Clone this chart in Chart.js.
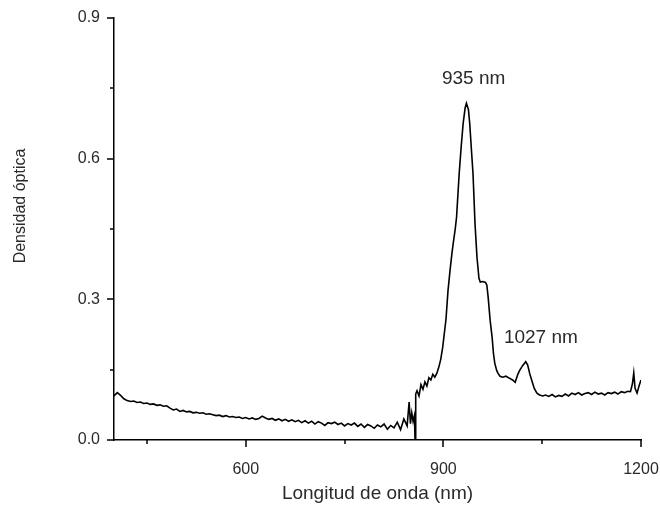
<!DOCTYPE html>
<html>
<head>
<meta charset="utf-8">
<script src="https://cdn.jsdelivr.net/npm/chart.js@4/dist/chart.umd.min.js"></script>
<style>
  html, body { margin: 0; padding: 0; background: #fff; }
  #wrap { width: 660px; height: 508px; }
</style>
</head>
<body>
<div id="wrap"><canvas id="spectrum"></canvas></div>
<script>
// wavelength (nm) and optical density
const wavelengths = [
  400, 405, 410, 415, 420, 425, 430, 435, 440, 445, 450, 455, 460, 465, 470, 475, 480, 485, 490, 495,
  500, 505, 510, 515, 520, 525, 530, 535, 540, 545, 550, 555, 560, 565, 570, 575, 580, 585, 590, 595,
  600, 605, 610, 615, 620, 625, 630, 635, 640, 645, 650, 655, 660, 665, 670, 675, 680, 685, 690, 695,
  700, 705, 710, 715, 720, 725, 730, 735, 740, 745, 750, 755, 760, 765, 770, 775, 780, 785, 790, 795,
  800, 805, 810, 815, 820, 825, 830, 835, 840, 845, 848, 850, 852, 854, 856, 857, 858,
  860, 863, 866, 869, 872, 875, 878, 881, 884, 887, 890, 893, 896, 899, 902, 904, 907, 910, 913, 915,
  918, 920, 924, 927, 930, 933, 935, 938, 940, 943, 945, 948, 951, 954, 956, 960, 964, 966, 968, 971,
  974, 976, 978, 981, 983, 986, 990, 995, 1000, 1005, 1009, 1013, 1016, 1020, 1025, 1028, 1031, 1034, 1038, 1042,
  1046, 1051, 1055, 1060, 1065, 1070, 1075, 1080, 1085, 1090, 1095, 1100, 1105, 1110, 1115, 1120, 1125, 1130, 1135, 1140,
  1145, 1150, 1155, 1160, 1165, 1170, 1175, 1180, 1184, 1187, 1189, 1191, 1194, 1197, 1200
];
const density = [
  0.094, 0.101, 0.095, 0.088, 0.084, 0.082, 0.083, 0.080, 0.081, 0.078, 0.079, 0.076, 0.077, 0.074, 0.075, 0.072, 0.073, 0.068, 0.064, 0.066,
  0.061, 0.063, 0.060, 0.061, 0.058, 0.059, 0.057, 0.058, 0.055, 0.056, 0.054, 0.052, 0.053, 0.050, 0.052, 0.049, 0.050, 0.048, 0.049, 0.046,
  0.048, 0.045, 0.047, 0.044, 0.046, 0.051, 0.047, 0.044, 0.046, 0.042, 0.045, 0.041, 0.044, 0.040, 0.043, 0.039, 0.042, 0.037, 0.041, 0.036,
  0.040, 0.034, 0.039, 0.036, 0.031, 0.037, 0.035, 0.038, 0.033, 0.036, 0.030, 0.035, 0.032, 0.036, 0.029, 0.034, 0.027, 0.033, 0.030, 0.025,
  0.032, 0.028, 0.034, 0.023, 0.031, 0.026, 0.038, 0.022, 0.045, 0.030, 0.081, 0.035, 0.058, 0.040, 0.052, 0.000, 0.098,
  0.105, 0.094, 0.118, 0.108, 0.124, 0.115, 0.133, 0.128, 0.140, 0.134, 0.142, 0.155, 0.172, 0.198, 0.234, 0.258, 0.318, 0.360, 0.398, 0.420,
  0.450, 0.475, 0.568, 0.625, 0.675, 0.708, 0.718, 0.705, 0.675, 0.610, 0.568, 0.462, 0.390, 0.345, 0.337, 0.338, 0.336, 0.330, 0.304, 0.255,
  0.219, 0.185, 0.164, 0.148, 0.142, 0.136, 0.134, 0.136, 0.132, 0.128, 0.123, 0.140, 0.149, 0.158, 0.167, 0.160, 0.142, 0.128, 0.110, 0.100,
  0.096, 0.094, 0.096, 0.093, 0.097, 0.092, 0.095, 0.093, 0.098, 0.094, 0.100, 0.097, 0.101, 0.096, 0.099, 0.101, 0.097, 0.102, 0.098, 0.100,
  0.096, 0.101, 0.099, 0.102, 0.098, 0.103, 0.101, 0.104, 0.103, 0.120, 0.143, 0.110, 0.100, 0.115, 0.128
];

const xMajorTicks = [600, 900, 1200];
const xMinorTicks = [450, 750, 1050];
const yMajorTicks = [0.0, 0.3, 0.6, 0.9];
const yMinorTicks = [0.15, 0.45, 0.75];

const peakLabels = ['935 nm', '1027 nm'];
const peakLabelX = [946, 1048];
const peakLabelY = [0.770, 0.219];

const xTitle = 'Longitud de onda (nm)';
const yTitle = 'Densidad óptica';

const FONT = '"Liberation Sans", Arial, Helvetica, sans-serif';
const TEXT = '#2a2a2a';

const points = wavelengths.map((w, i) => ({ x: w, y: density[i] }));

// draws tick marks (major + minor), peak labels and axis titles
const decorPlugin = {
    id: 'decor',
    afterDraw(chart) {
        const ctx = chart.ctx;
        const xs = chart.scales.x;
        const ys = chart.scales.y;
        const area = chart.chartArea;
        ctx.save();
        ctx.strokeStyle = '#000';
        ctx.lineWidth = 1.5;
        ctx.beginPath();
        xMajorTicks.forEach(v => {
            const px = Math.round(xs.getPixelForValue(v));
            ctx.moveTo(px, area.bottom); ctx.lineTo(px, area.bottom + 7);
        });
        xMinorTicks.forEach(v => {
            const px = Math.round(xs.getPixelForValue(v));
            ctx.moveTo(px, area.bottom); ctx.lineTo(px, area.bottom + 4);
        });
        yMajorTicks.forEach(v => {
            const py = Math.round(ys.getPixelForValue(v));
            ctx.moveTo(area.left, py); ctx.lineTo(area.left - 7, py);
        });
        yMinorTicks.forEach(v => {
            const py = Math.round(ys.getPixelForValue(v));
            ctx.moveTo(area.left, py); ctx.lineTo(area.left - 4, py);
        });
        ctx.stroke();

        ctx.fillStyle = TEXT;
        ctx.textAlign = 'center';
        ctx.textBaseline = 'middle';
        ctx.font = '19px ' + FONT;
        peakLabels.forEach((t, i) => {
            ctx.fillText(t, xs.getPixelForValue(peakLabelX[i]), ys.getPixelForValue(peakLabelY[i]));
        });

        ctx.font = '19px ' + FONT;
        ctx.fillText(xTitle, (area.left + area.right) / 2, 494);
        ctx.font = '16px ' + FONT;
        ctx.translate(21, 206);
        ctx.rotate(-Math.PI / 2);
        ctx.fillText(yTitle, 0, 0);
        ctx.restore();
    }
};

const ctx = document.getElementById('spectrum').getContext('2d');
new Chart(ctx, {
    type: 'line',
    data: {
        datasets: [{
            data: points,
            borderColor: '#000',
            borderWidth: 1.6,
            pointRadius: 0,
            tension: 0,
            fill: false
        }]
    },
    options: {
        responsive: true,
        maintainAspectRatio: false,
        animation: false,
        layout: { padding: { top: 18, right: 19, left: 0, bottom: 0 } },
        plugins: {
            legend: { display: false },
            tooltip: { enabled: false }
        },
        scales: {
            x: {
                type: 'linear',
                min: 400,
                max: 1200,
                afterBuildTicks: scale => { scale.ticks = xMajorTicks.map(v => ({ value: v })); },
                afterFit: scale => {
                    scale.height = 68;
                    scale.paddingLeft = 0;
                    scale.paddingRight = 0;
                },
                grid: { drawOnChartArea: false, drawTicks: false },
                border: { display: true, color: '#000', width: 1.5 },
                ticks: {
                    padding: 20,
                    color: TEXT,
                    font: { family: FONT, size: 16 },
                    maxRotation: 0,
                    callback: v => String(v)
                }
            },
            y: {
                min: 0,
                max: 0.9,
                afterBuildTicks: scale => { scale.ticks = yMajorTicks.map(v => ({ value: v })); },
                afterFit: scale => {
                    scale.width = 114;
                    scale.paddingTop = 0;
                    scale.paddingBottom = 0;
                },
                grid: { drawOnChartArea: false, drawTicks: false },
                border: { display: true, color: '#000', width: 1.5 },
                ticks: {
                    padding: 14,
                    color: TEXT,
                    font: { family: FONT, size: 16 },
                    callback: v => Number(v).toFixed(1)
                }
            }
        }
    },
    plugins: [decorPlugin]
});
</script>
</body>
</html>
